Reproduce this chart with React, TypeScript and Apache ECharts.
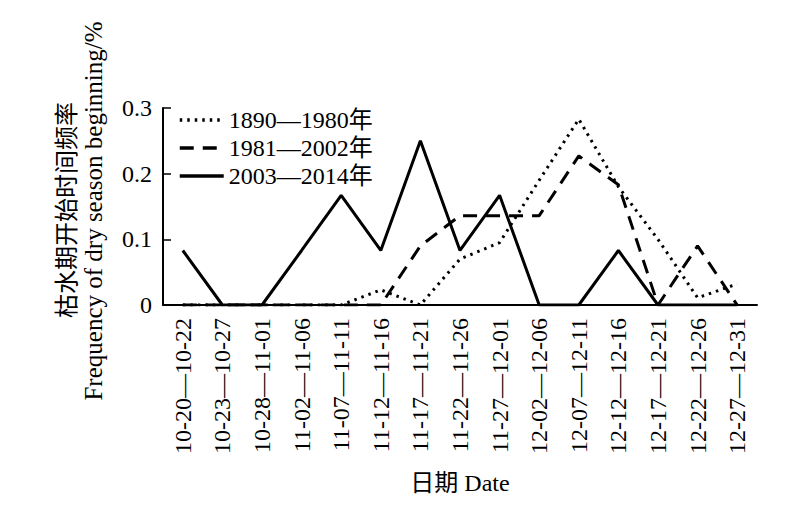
import React, { useEffect, useRef } from "react";
import * as echarts from "echarts";

const categories = [
  "10-20—10-22", "10-23—10-27", "10-28—11-01", "11-02—11-06", "11-07—11-11",
  "11-12—11-16", "11-17—11-21", "11-22—11-26", "11-27—12-01", "12-02—12-06",
  "12-07—12-11", "12-12—12-16", "12-17—12-21", "12-22—12-26", "12-27—12-31",
];
const seriesNames = ["1890—1980年", "1981—2002年", "2003—2014年"];
const s1890 = [0, 0, 0, 0, 0, 0.023, 0, 0.07, 0.095, 0.19, 0.283, 0.18, 0.1, 0.011, 0.032];
const s1981 = [0, 0, 0, 0, 0, 0, 0.09, 0.136, 0.136, 0.136, 0.227, 0.183, 0, 0.09, 0];
const s2003 = [0.083, 0, 0, 0.083, 0.167, 0.083, 0.25, 0.083, 0.167, 0, 0, 0.083, 0, 0, 0];
const yTicks = [0, 0.1, 0.2, 0.3];
const yNameCn = "枯水期开始时间频率";
const yNameEn = "Frequency of dry season beginning/%";

const FONT = "'Liberation Serif', 'Times New Roman', 'Noto Sans CJK SC', serif";

export default function App() {
  const ref = useRef<HTMLDivElement>(null);
  useEffect(() => {
    document.body.style.margin = "0";
    const chart = echarts.init(ref.current!, null, { renderer: "svg" });
    const mk = (name: string, data: number[], type: any) => ({
      name,
      type: "line",
      data,
      symbol: "none",
      lineStyle: { color: "#000", width: 3, type, cap: "butt" },
      itemStyle: { color: "#000" },
    });
    chart.setOption({
      animation: false,
      backgroundColor: "#fff",
      textStyle: { fontFamily: FONT, color: "#000" },
      grid: { left: 163, top: 108, right: 43, bottom: 212 },
      legend: {
        orient: "vertical",
        left: 173,
        top: 103,
        itemWidth: 44,
        itemHeight: 14,
        itemGap: 4,
        data: seriesNames,
        itemStyle: { opacity: 0 },
        lineStyle: { width: 3.5 },
        textStyle: { fontFamily: FONT, fontSize: 24, color: "#000" },
      },
      graphic: [
        {
          type: "text",
          x: 67,
          y: 210,
          rotation: Math.PI / 2,
          style: {
            text: yNameCn,
            font: `24px ${FONT}`,
            fill: "#000",
            align: "center",
            verticalAlign: "middle",
          },
        },
        {
          type: "text",
          x: 93,
          y: 211,
          rotation: Math.PI / 2,
          style: {
            text: yNameEn,
            font: `25px ${FONT}`,
            fill: "#000",
            align: "center",
            verticalAlign: "middle",
          },
        },
      ],
      xAxis: {
        type: "category",
        data: categories,
        boundaryGap: true,
        axisLine: { lineStyle: { color: "#000", width: 2 } },
        axisTick: { show: false },
        axisLabel: { rotate: 90, margin: 13, fontSize: 24, color: "#000", fontFamily: FONT, interval: 0 },
        name: "日期 Date",
        nameLocation: "middle",
        nameGap: 166,
        nameTextStyle: { fontSize: 24, color: "#000", fontFamily: FONT },
      },
      yAxis: {
        type: "value",
        min: yTicks[0],
        max: yTicks[yTicks.length - 1],
        interval: 0.1,
        splitLine: { show: false },
        axisLine: { show: true, lineStyle: { color: "#000", width: 2 } },
        axisTick: { show: true, inside: true, length: 8, lineStyle: { color: "#000", width: 1.5 } },
        axisLabel: {
          fontSize: 24,
          color: "#000",
          fontFamily: FONT,
          margin: 11,
          formatter: (v: number) => (v === 0 ? "0" : v.toFixed(1)),
        },
      },
      series: [
        mk(seriesNames[0], s1890, [2.5, 5]),
        mk(seriesNames[1], s1981, [14, 9]),
        mk(seriesNames[2], s2003, "solid"),
      ],
    });
    return () => chart.dispose();
  }, []);
  return <div ref={ref} style={{ width: 800, height: 517 }} />;
}
